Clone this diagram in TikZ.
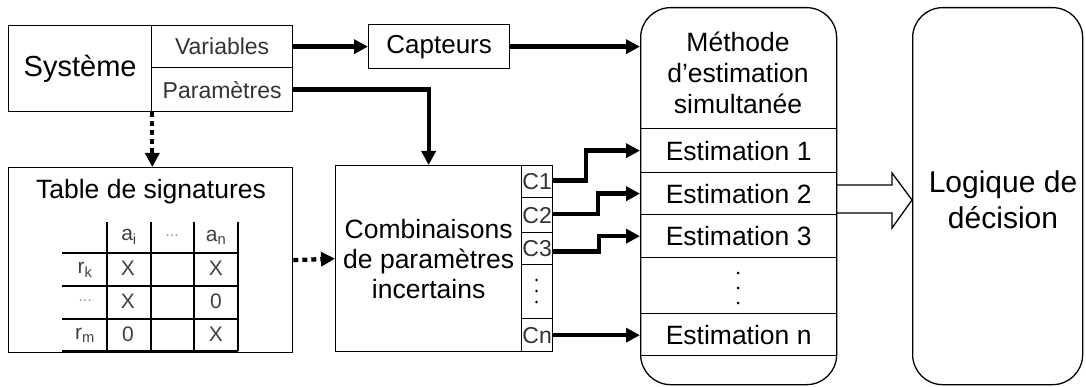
\documentclass[tikz,border=0pt]{standalone}
\usepackage{fontspec}
\setmainfont{Liberation Sans}
\usetikzlibrary{arrows.meta}
\begin{document}
\begin{tikzpicture}[x=1pt,y=-1pt,
  box/.style={draw, line width=1.3pt, rectangle, inner sep=0pt, anchor=north west},
  cell/.style={draw, line width=1.3pt, rectangle, inner sep=0pt, anchor=north west, font=\fontsize{23}{24}\selectfont, text=black!80},
  big/.style={font=\fontsize{26.5}{32}\selectfont},
  thin/.style={text=black!80, font=\fontsize{23}{26}\selectfont},
  tcell/.style={text=black!75, font=\fontsize{21}{22}\selectfont, inner sep=0pt},
  flow/.style={line width=4.3pt, -{Triangle[length=14pt,width=14pt]}},
  dotflow/.style={line width=4.3pt, dash pattern=on 5pt off 4pt, -{Triangle[length=14pt,width=14pt]}},
  rbox/.style={draw, line width=1.3pt, rectangle, rounded corners=30pt, inner sep=0pt, anchor=north west}
]
\useasboundingbox (0,0) rectangle (1086,387);

% Systeme
\node[box, minimum width=143pt, minimum height=86pt, font=\fontsize{29}{34}\selectfont] (sysname) at (8,25) {Système};
\node[box, minimum width=141pt, minimum height=42pt, thin] (var) at (151,25) {Variables};
\node[box, minimum width=141pt, minimum height=44pt, thin] (par) at (151,67) {Paramètres};

% Capteurs
\node[box, minimum width=141pt, minimum height=44pt, font=\fontsize{26}{30}\selectfont] (capt) at (368,24) {Capteurs};

% Methode
\node[rbox, minimum width=196pt, minimum height=377pt] (meth) at (640,7) {};
\node[big, align=center, inner sep=0pt] (methtitle) at (738,73) {Méthode\\[-1pt]d’estimation\\[-1pt]simultanée};
\node[box, big, minimum width=196pt, minimum height=44pt] (est1) at (640,128) {Estimation 1};
\node[box, big, minimum width=196pt, minimum height=42pt] (est2) at (640,172) {Estimation 2};
\node[box, big, minimum width=196pt, minimum height=43pt] (est3) at (640,214) {Estimation 3};
\node[box, minimum width=196pt, minimum height=56pt] (estd) at (640,257) {};
\node[box, big, minimum width=196pt, minimum height=42pt] (estn) at (640,313) {Estimation n};
\foreach \yy in {273,288,303} \fill (738,\yy) circle (1.5pt);

% Logique
\node[rbox, minimum width=170pt, minimum height=377pt] (logic) at (912,7) {};
\node[align=center, inner sep=0pt, font=\fontsize{30}{36}\selectfont] (logtxt) at (1003,200) {Logique de\\décision};

% Hollow arrow
\coordinate (ha) at (836,185);
\draw[line width=1.3pt] (ha) -- (892,185) -- (892,173) -- (912,200) -- (892,228) -- (892,213) -- (836,213);

% Table de signatures
\node[box, minimum width=284pt, minimum height=185pt] (table) at (8,167) {};
\node[big, inner sep=0pt] (ttitle) at (151,192) {Table de signatures};
\foreach \xx in {107,151,194,238} \draw[line width=1.3pt] (\xx,222) -- (\xx,351);
\foreach \yy in {253,286,319,351} \draw[line width=1.3pt] (62,\yy) -- (238,\yy);
\node[tcell] (hai) at (129,237) {a\textsubscript{i}};
\node[tcell] (hdots) at (172,236) {\textcolor{black!50}{\fontsize{14}{14}\selectfont …}};
\node[tcell] (han) at (216,237) {a\textsubscript{n}};
\node[tcell] (rk) at (85,270) {r\textsubscript{k}};
\node[tcell] (rdots) at (85,301) {\textcolor{black!50}{\fontsize{14}{14}\selectfont …}};
\node[tcell] (rm) at (85,335) {r\textsubscript{m}};
\node[tcell] (x11) at (128,268) {X};
\node[tcell] (x12) at (216,268) {X};
\node[tcell] (x21) at (128,301) {X};
\node[tcell] (x22) at (216,301) {0};
\node[tcell] (x31) at (128,334) {0};
\node[tcell] (x32) at (216,334) {X};

% Combinaisons
\node[box, big, minimum width=186pt, minimum height=186pt, align=center] (comb) at (335,165) {Combinaisons\\[-2pt]de paramètres\\[-2pt]incertains};
\node[cell, minimum width=31pt, minimum height=32pt] (c1) at (521,165) {C1};
\node[cell, minimum width=31pt, minimum height=35pt] (c2) at (521,197) {C2};
\node[cell, minimum width=31pt, minimum height=32pt] (c3) at (521,232) {C3};
\node[cell, minimum width=31pt, minimum height=54pt] (cd) at (521,264) {};
\node[cell, minimum width=31pt, minimum height=33pt] (cn) at (521,318) {Cn};
\foreach \yy in {280,291,302} \fill (536.5,\yy) circle (1.4pt);

% Connectors
\draw[flow] (var.east) -- (capt.west);
\draw[flow] (capt.east) -- (capt.east -| meth.west);
\draw[flow] (par.east) -| (comb.north);
\draw[dotflow] (sysname.south east) -- (sysname.south east |- table.north);
\draw[dotflow] (table.east) -- (comb.west);
\draw[flow] ([yshift=1pt]c1.east) -- ++(33,0) |- (est1.west);
\draw[flow] ([yshift=1pt]c2.east) -- ++(45,0) |- (est2.west);
\draw[flow] ([yshift=-3pt]c3.east) -- ++(46,0) |- (est3.west);
\draw[flow] (cn.east) -- (cn.east -| estn.west);
\end{tikzpicture}
\end{document}
